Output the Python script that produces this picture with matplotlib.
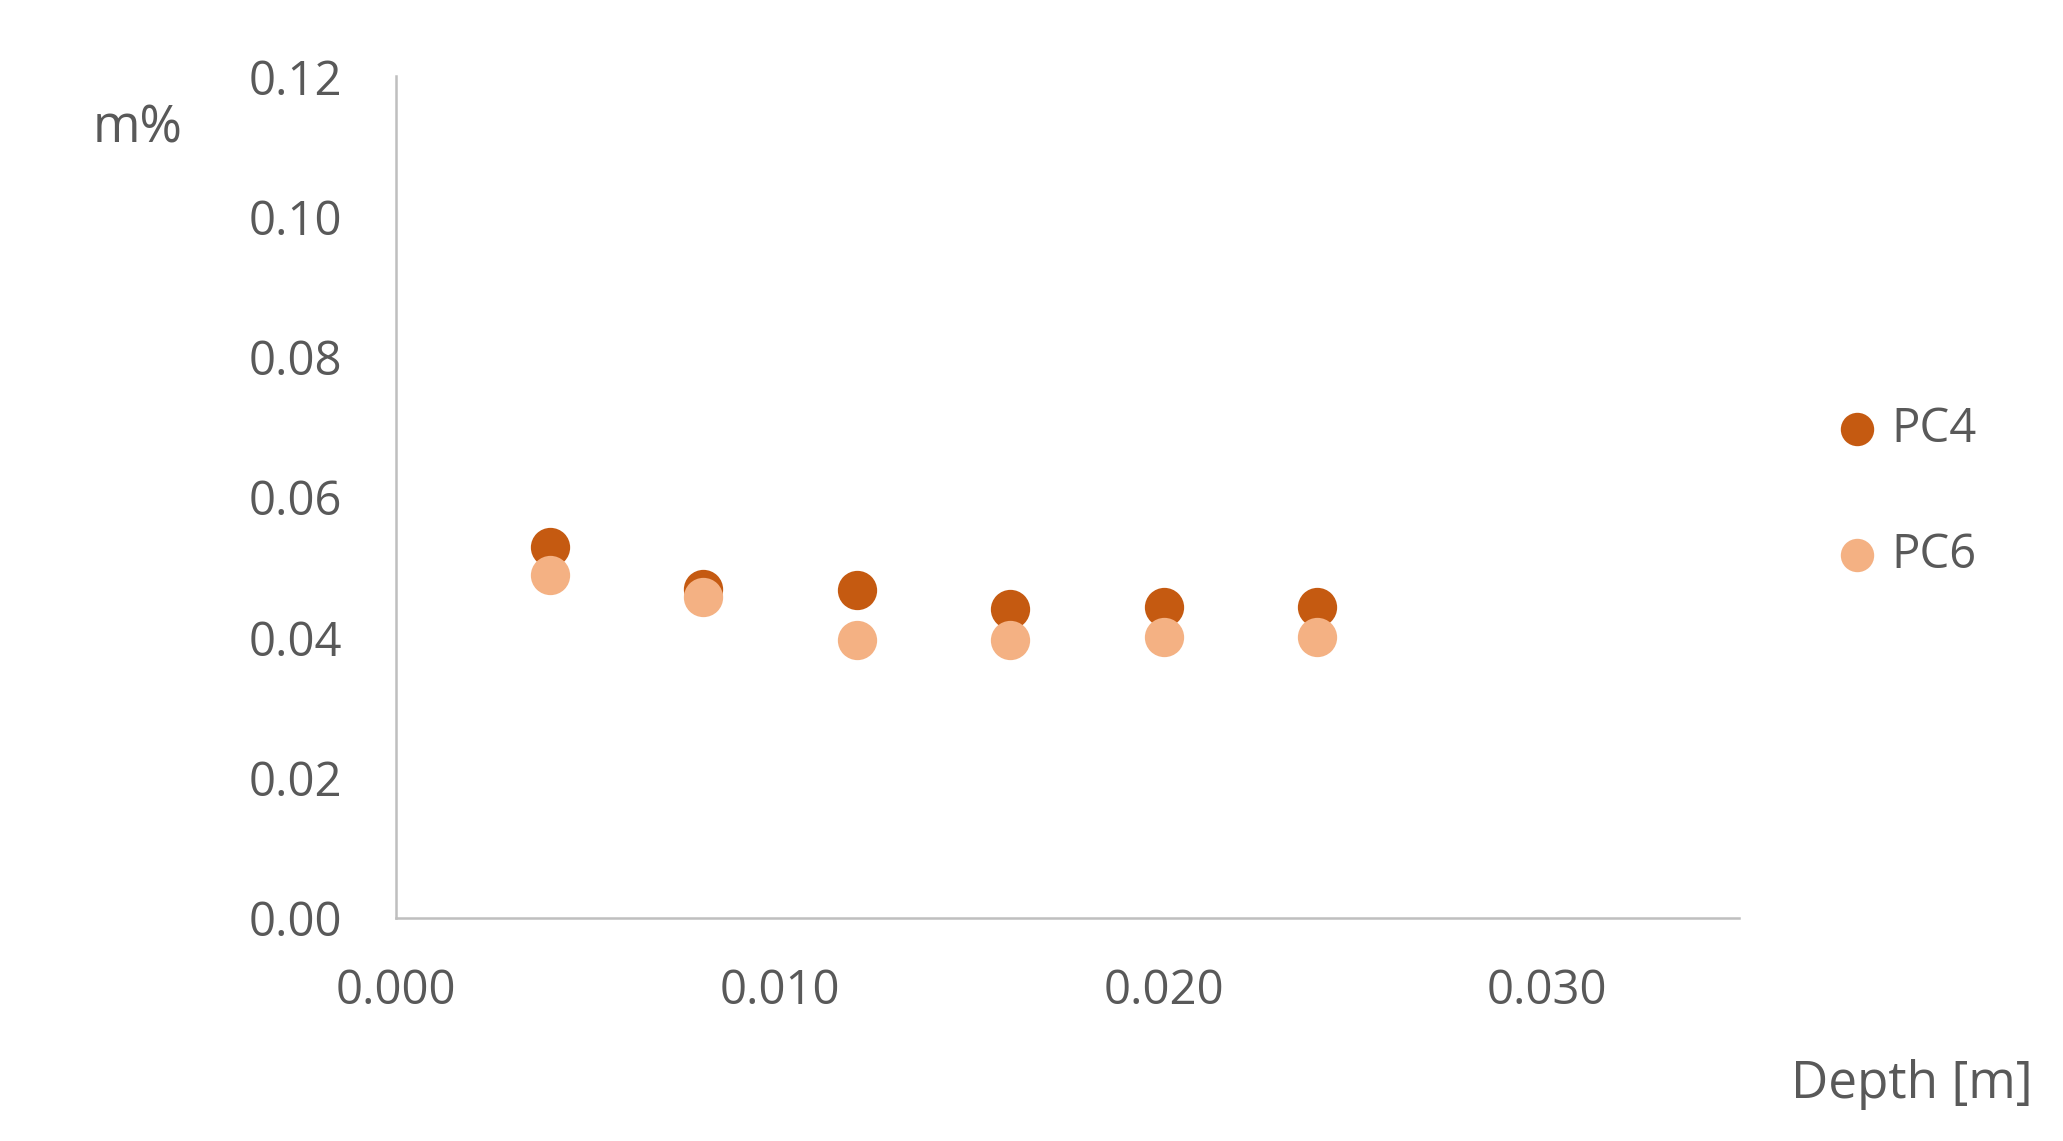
import matplotlib.pyplot as plt

depth = [0.004, 0.008, 0.012, 0.016, 0.020, 0.024]
pc4 = [0.0529, 0.0469, 0.0468, 0.0441, 0.0444, 0.0444]
pc6 = [0.0489, 0.0458, 0.0396, 0.0396, 0.0400, 0.0400]
series_names = ["PC4", "PC6"]
colors = ["#C55A11", "#F4B183"]

x_ticks = [0.000, 0.010, 0.020, 0.030]
y_ticks = [0.00, 0.02, 0.04, 0.06, 0.08, 0.10, 0.12]

plt.rcParams['font.family'] = ['Open Sans', 'DejaVu Sans']
text_color = "#595959"
axis_color = "#BFBFBF"
fs = 34

fig = plt.figure(figsize=(20.63, 11.41), dpi=100)
ax = fig.add_axes([0.192, 0.1955, 0.651, 0.7375])

for vals, name, c in zip([pc4, pc6], series_names, colors):
    ax.scatter(depth, vals, s=800, color=c, label=name, linewidths=0, zorder=3)

ax.set_xlim(0, 0.035)
ax.set_ylim(0, 0.12)
ax.set_xticks(x_ticks)
ax.set_xticklabels([f"{v:.3f}" for v in x_ticks])
ax.set_yticks(y_ticks)
ax.set_yticklabels([f"{v:.2f}" for v in y_ticks])
ax.tick_params(length=0, labelsize=fs, labelcolor=text_color)
ax.tick_params(axis='x', pad=36)
ax.tick_params(axis='y', pad=39)

for side in ["top", "right"]:
    ax.spines[side].set_visible(False)
for side in ["left", "bottom"]:
    ax.spines[side].set_color(axis_color)
    ax.spines[side].set_linewidth(1.8)

fig.text(138 / 2063, 1 - 129 / 1141, "m%", fontsize=37, color=text_color,
         ha="center", va="center")
fig.text(2033 / 2063, 1 - 1084 / 1141, "Depth [m]", fontsize=37, color=text_color,
         ha="right", va="center")

leg = fig.legend(loc="center left", bbox_to_anchor=(1814 / 2063, 1 - 492 / 1141),
                 frameon=False, fontsize=fs, labelcolor=text_color,
                 handlelength=1.0, handletextpad=0.23, labelspacing=1.66,
                 markerscale=0.85, borderaxespad=0)

fig.savefig("out.png", dpi=100)
